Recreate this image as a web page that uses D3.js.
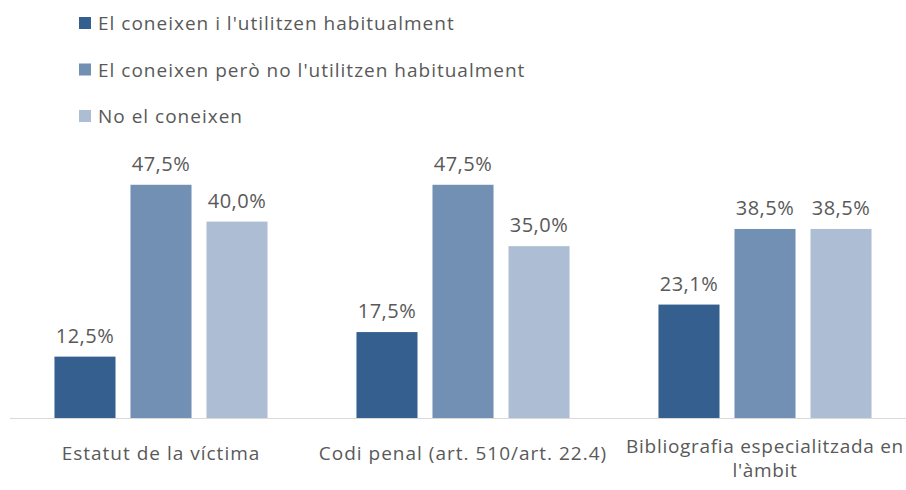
<!DOCTYPE html>
<html>
<head>
<meta charset="utf-8">
<script src="https://cdn.jsdelivr.net/npm/d3@7"></script>
<style>
  body { margin: 0; background: #fff; }
  text { font-family: "Open Sans", sans-serif; fill: #595959; }
</style>
</head>
<body>
<div id="chart"></div>
<script>
// chart data
const categories = ["Estatut de la víctima", "Codi penal (art. 510/art. 22.4)", "Bibliografia especialitzada en l'àmbit"];
const seriesNames = ["El coneixen i l'utilitzen habitualment", "El coneixen però no l'utilitzen habitualment", "No el coneixen"];
const usedValues = [12.5, 17.5, 23.1];
const knownValues = [47.5, 47.5, 38.5];
const unknownValues = [40.0, 35.0, 38.5];
const seriesColors = ["#355f8f", "#7190b4", "#adbed4"];

const seriesValues = [usedValues, knownValues, unknownValues];

let width = 906, height = 490;
let baseY = 418;

let svg = d3.select("#chart").append("svg")
    .attr("width", width)
    .attr("height", height);

// scales
let x0 = d3.scaleBand()
    .domain(categories)
    .range([10, 916]);

let x1 = d3.scaleBand()
    .domain(seriesNames)
    .range([0, x0.bandwidth()])
    .paddingInner(0.197)
    .paddingOuter(0.585);

let y = d3.scaleLinear()
    .domain([0, 50])
    .range([baseY, baseY - 4.91 * 50]);

let fmt = v => d3.format(".1f")(v).replace(".", ",") + "%";

// axis line
svg.append("line")
    .attr("x1", 10).attr("x2", width)
    .attr("y1", baseY + 0.5).attr("y2", baseY + 0.5)
    .attr("stroke", "#d9d9d9")
    .attr("stroke-width", 1);

// bars
let rows = [];
categories.forEach((c, i) => {
    seriesNames.forEach((s, j) => {
        rows.push({cat: c, series: s, value: seriesValues[j][i], color: seriesColors[j]});
    });
});

svg.selectAll(".bar")
    .data(rows)
    .enter().append("rect")
    .attr("class", "bar")
    .attr("x", d => x0(d.cat) + x1(d.series))
    .attr("width", x1.bandwidth())
    .attr("y", d => y(d.value))
    .attr("height", d => baseY - y(d.value))
    .attr("fill", d => d.color);

// value labels
svg.selectAll(".val")
    .data(rows)
    .enter().append("text")
    .attr("class", "val")
    .attr("x", d => x0(d.cat) + x1(d.series) + x1.bandwidth() / 2)
    .attr("y", d => y(d.value) - 14)
    .attr("text-anchor", "middle")
    .attr("font-size", "20px")
    .attr("letter-spacing", "0.5px")
    .text(d => fmt(d.value));

// category labels (last one wraps in two lines)
let catLines = [
    [categories[0]],
    [categories[1]],
    ["Bibliografia especialitzada en", "l'àmbit"]
];

categories.forEach((c, i) => {
    let lines = catLines[i];
    let cx = x0(c) + x0.bandwidth() / 2;
    let startY = lines.length > 1 ? 453 : 460;
    let t = svg.append("text")
        .attr("text-anchor", "middle")
        .attr("font-size", "19px")
        .attr("letter-spacing", lines.length > 1 ? "0.7px" : "1px");
    lines.forEach((l, k) => {
        t.append("tspan")
            .attr("x", cx)
            .attr("y", startY + k * 24)
            .text(l);
    });
});

// legend
let legend = svg.append("g")
    .attr("class", "legend")
    .attr("transform", "translate(79, 0)");

seriesNames.forEach((s, i) => {
    let cy = 23 + i * 46.5;
    legend.append("rect")
        .attr("x", 0)
        .attr("y", cy - 6)
        .attr("width", 12)
        .attr("height", 12)
        .attr("fill", seriesColors[i]);
    legend.append("text")
        .attr("x", 19)
        .attr("y", cy + 7)
        .attr("font-size", "19px")
        .attr("letter-spacing", "1px")
        .text(s);
});
</script>
</body>
</html>
